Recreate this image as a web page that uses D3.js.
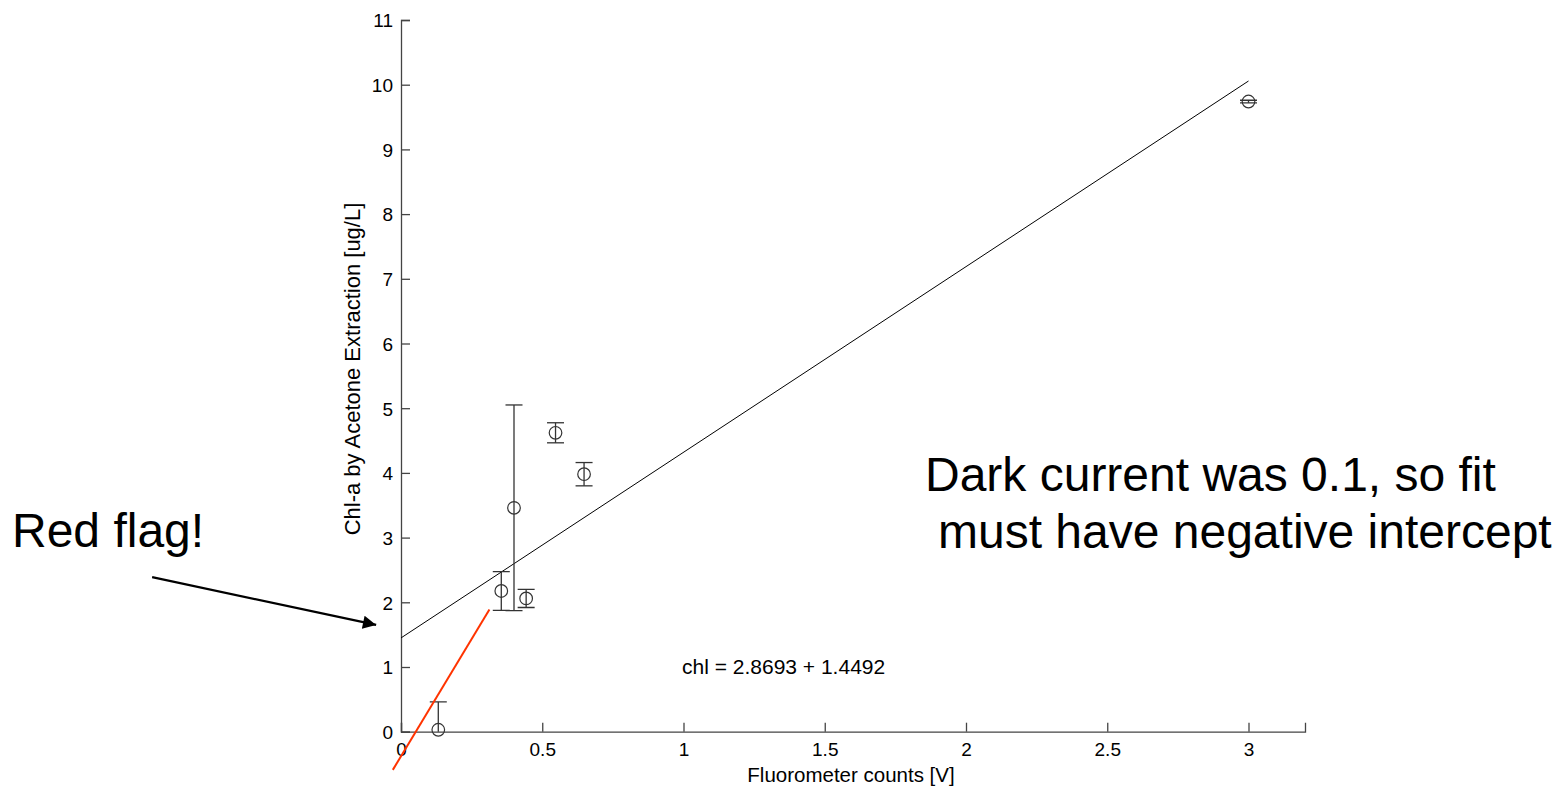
<!DOCTYPE html>
<html>
<head>
<meta charset="utf-8">
<script src="https://cdn.jsdelivr.net/npm/d3@7"></script>
<style>
  body { margin: 0; background: #fff; }
  text { font-family: Arial, "Liberation Sans", sans-serif; fill: #000; }
</style>
</head>
<body>
<svg id="chart"></svg>
<script>
// measured points (x = fluorometer volts, y = chl-a, err = +/- bar)
const xVals = [0.132, 0.355, 0.40, 0.443, 0.547, 0.648, 3.0];
const yVals = [0.03, 2.175, 3.46, 2.06, 4.62, 3.98, 9.74];
const errVals = [0.43, 0.30, 1.59, 0.14, 0.155, 0.18, 0.02];

// linear fit chl = slope * V + intercept
const fitSlope = 2.8693;
const fitIntercept = 1.4492;
const fitRange = [0, 3];

const xTicks = [0, 0.5, 1, 1.5, 2, 2.5, 3];
const yTicks = [0, 1, 2, 3, 4, 5, 6, 7, 8, 9, 10, 11];

// annotations in data units
const redLine = [[-0.029, -0.59], [0.313, 1.89]];
const arrowLine = [[-0.881, 2.39], [-0.088, 1.65]];

const width = 1562;
const height = 788;
const margin = { top: 20, right: 257, bottom: 56.3, left: 401 };

const svg = d3.select("#chart")
  .attr("width", width)
  .attr("height", height);

const x = d3.scaleLinear()
  .domain([0, 3.2])
  .range([margin.left, width - margin.right]);

const y = d3.scaleLinear()
  .domain([0, 11])
  .range([height - margin.bottom, margin.top]);

svg.append("defs").append("clipPath").attr("id", "plotClip")
  .append("rect")
  .attr("x", x(0)).attr("y", y(11))
  .attr("width", x(3.2) - x(0)).attr("height", y(0) - y(11));

svg.select("defs").append("marker")
  .attr("id", "head")
  .attr("viewBox", "0 0 10 10")
  .attr("refX", 10).attr("refY", 5)
  .attr("markerWidth", 7).attr("markerHeight", 6)
  .attr("markerUnits", "strokeWidth")
  .attr("orient", "auto")
  .append("path")
  .attr("d", "M0,0 L10,5 L0,10 Z")
  .attr("fill", "#000");

// axes: ticks point inward like matlab
const xAxis = svg.append("g")
  .attr("transform", `translate(0,${y(0)})`)
  .call(d3.axisBottom(x).tickValues(xTicks).tickSize(-9).tickPadding(11).tickFormat(d3.format("")));

const yAxis = svg.append("g")
  .attr("transform", `translate(${x(0)},0)`)
  .call(d3.axisLeft(y).tickValues(yTicks).tickSize(-9).tickPadding(8).tickFormat(d3.format("")));

[xAxis, yAxis].forEach(g => {
  g.select(".domain").attr("stroke", "#444").attr("stroke-width", 1.3);
  g.selectAll(".tick line").attr("stroke", "#444").attr("stroke-width", 1.3);
  g.selectAll(".tick text").style("font-size", "19px").attr("fill", "#000");
});
yAxis.selectAll(".tick text").attr("dy", "0.36em");

svg.append("text")
  .attr("x", (x(0) + x(3.2)) / 2 - 2)
  .attr("y", 782)
  .attr("text-anchor", "middle")
  .style("font-size", "20.5px")
  .text("Fluorometer counts [V]");

svg.append("text")
  .attr("transform", "translate(360,369) rotate(-90)")
  .attr("text-anchor", "middle")
  .style("font-size", "22px")
  .text("Chl-a by Acetone Extraction [ug/L]");

// fit line
const fitPts = fitRange.map(v => [v, fitSlope * v + fitIntercept]);
svg.append("path")
  .datum(fitPts)
  .attr("fill", "none")
  .attr("stroke", "#000")
  .attr("stroke-width", 1)
  .attr("d", d3.line().x(d => x(d[0])).y(d => y(d[1])));

// error bars
const pts = xVals.map((v, i) => ({ x: v, y: yVals[i], e: errVals[i] }));
const capHalf = 8.5;
const bars = svg.append("g")
  .attr("clip-path", "url(#plotClip)")
  .attr("stroke", "#333")
  .attr("stroke-width", 1.3)
  .attr("fill", "none");

bars.selectAll("line.v")
  .data(pts).enter().append("line")
  .attr("x1", d => x(d.x)).attr("x2", d => x(d.x))
  .attr("y1", d => y(d.y - d.e)).attr("y2", d => y(d.y + d.e));

bars.selectAll("line.top")
  .data(pts).enter().append("line")
  .attr("x1", d => x(d.x) - capHalf).attr("x2", d => x(d.x) + capHalf)
  .attr("y1", d => y(d.y + d.e)).attr("y2", d => y(d.y + d.e));

bars.selectAll("line.bot")
  .data(pts).enter().append("line")
  .attr("x1", d => x(d.x) - capHalf).attr("x2", d => x(d.x) + capHalf)
  .attr("y1", d => y(d.y - d.e)).attr("y2", d => y(d.y - d.e));

svg.append("g").selectAll("circle")
  .data(pts).enter().append("circle")
  .attr("cx", d => x(d.x))
  .attr("cy", d => y(d.y))
  .attr("r", 6.3)
  .attr("fill", "none")
  .attr("stroke", "#333")
  .attr("stroke-width", 1.2);

svg.append("text")
  .attr("x", 682)
  .attr("y", 674)
  .style("font-size", "21px")
  .text("chl = 2.8693 + 1.4492");

// annotations
svg.append("path")
  .datum(redLine)
  .attr("fill", "none")
  .attr("stroke", "#ff3300")
  .attr("stroke-width", 2)
  .attr("d", d3.line().x(d => x(d[0])).y(d => y(d[1])));

svg.append("path")
  .datum(arrowLine)
  .attr("fill", "none")
  .attr("stroke", "#000")
  .attr("stroke-width", 2.2)
  .attr("marker-end", "url(#head)")
  .attr("d", d3.line().x(d => x(d[0])).y(d => y(d[1])));

svg.append("text")
  .attr("x", 12).attr("y", 547)
  .style("font-size", "48px")
  .text("Red flag!");

svg.append("text")
  .attr("x", 925).attr("y", 491)
  .style("font-size", "48px")
  .text("Dark current was 0.1, so fit");

svg.append("text")
  .attr("x", 938).attr("y", 548)
  .style("font-size", "48px")
  .text("must have negative intercept");
</script>
</body>
</html>
